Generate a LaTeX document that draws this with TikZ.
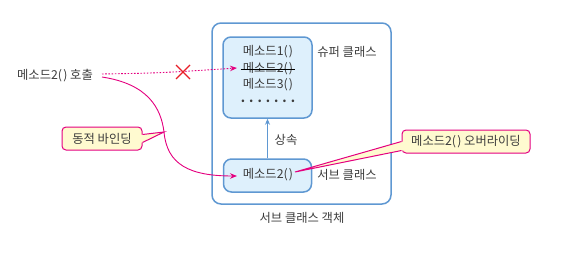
\documentclass[tikz,border=0pt]{standalone}
\usepackage{fontspec}
\setmainfont{Noto Sans CJK KR}
\usetikzlibrary{arrows.meta}
\definecolor{bblue}{RGB}{95,152,210}
\definecolor{bfill}{RGB}{222,240,252}
\definecolor{pink}{RGB}{228,0,127}
\definecolor{xred}{RGB}{232,30,40}
\definecolor{cfill}{RGB}{255,250,208}
\definecolor{txt}{RGB}{60,60,60}
\newcommand{\pp}{(\kern1.2pt)}
\tikzset{
  lbl/.style={font=\fontsize{12.3}{14}\selectfont, text=txt, inner sep=0pt},
  classbox/.style={draw=bblue, fill=bfill, line width=1.5pt, rounded corners=8pt, inner sep=0pt},
  callout/.style={draw=pink, fill=cfill, line width=1pt, rounded corners=4pt, inner sep=0pt, font=\fontsize{12.3}{14}\selectfont, text=txt},
  parrow/.style={draw=pink, line width=0.9pt, -{Stealth[length=7pt,width=5.5pt]}},
}
\begin{document}
\begin{tikzpicture}[x=1pt,y=-1pt]
\useasboundingbox (0,0) rectangle (580,257);
% outer box
\node[draw=bblue, line width=1.5pt, rounded corners=9pt, minimum width=179pt, minimum height=181pt, inner sep=0pt] (outer) at (301.5,113.5) {};
\node[lbl] (outerlbl) at (302,218) {서브 클래스 객체};
% super class box
\node[classbox, minimum width=89pt, minimum height=81pt] (super) at (267.5,77.5) {};
\node[lbl] (m1) at (268,52) {메소드1\pp};
\node[lbl] (m2) at (268,69) {메소드2\pp};
\node[lbl] (m3) at (268,85) {메소드3\pp};
\node[lbl, font=\fontsize{12.3}{14}\selectfont\bfseries] (dots) at (268,101) {.\hspace{4pt}.\hspace{4pt}.\hspace{4pt}.\hspace{4pt}.\hspace{4pt}.\hspace{4pt}.};
\draw[black, line width=0.8pt] ([xshift=-2pt]m2.west) -- ([xshift=2pt]m2.east);
\node[lbl] (superlbl) at (347,52) {슈퍼 클래스};
% sub class box
\node[classbox, minimum width=88pt, minimum height=33pt] (sub) at (267.5,175.5) {};
\node[lbl] (sm2) at (268,175) {메소드2\pp};
\node[lbl] (sublbl) at (347,175) {서브 클래스};
% inheritance
\draw[bblue, line width=1pt, -{Stealth[length=6pt,width=5pt]}] (sub.north) -- (super.south);
\node[lbl] (inh) at (286,140) {상속};
% call
\node[lbl] (call) at (55,76) {메소드2\pp{} 호출};
\coordinate (c1) at (102,74);
\coordinate (c2) at (102,77);
\coordinate (bend) at (164,132);
\coordinate (t1) at (237,68);
\coordinate (t2) at (237,176);
\draw[parrow, dash pattern=on 1.6pt off 1.6pt] (c1) .. controls (160,73) .. (t1);
\draw[parrow] (c2) .. controls (148,84) and (161,108) .. (bend) .. controls (167,165) and (190,176) .. (t2);
% red X
\coordinate (xc) at (183,72);
\draw[xred, line width=1.4pt] ([shift={(-7,-7)}]xc) -- ([shift={(7,7)}]xc) ([shift={(-7,7)}]xc) -- ([shift={(7,-7)}]xc);
% dynamic binding callout
\node[callout, minimum width=80pt, minimum height=23pt] (dyn) at (102,138.5) {동적 바인딩};
\fill[cfill] (bend) -- ([yshift=-4pt]dyn.east) -- ([shift={(-2pt,-4pt)}]dyn.east) -- ([shift={(-2pt,4pt)}]dyn.east) -- ([yshift=4pt]dyn.east) -- cycle;
\draw[pink, line width=1pt] ([yshift=-4pt]dyn.east) -- (bend) -- ([yshift=4pt]dyn.east);
% override callout
\coordinate (otip) at (295,172);
\node[callout, minimum width=128pt, minimum height=23pt] (ovr) at (466,141.5) {메소드2\pp{} 오버라이딩};
\fill[cfill] (otip) -- ([yshift=-9pt]ovr.west) -- ([shift={(2pt,-9pt)}]ovr.west) -- ([shift={(2pt,0pt)}]ovr.west) -- (ovr.west) -- cycle;
\draw[pink, line width=1pt] ([yshift=-9pt]ovr.west) -- (otip) -- (ovr.west);
\end{tikzpicture}
\end{document}
